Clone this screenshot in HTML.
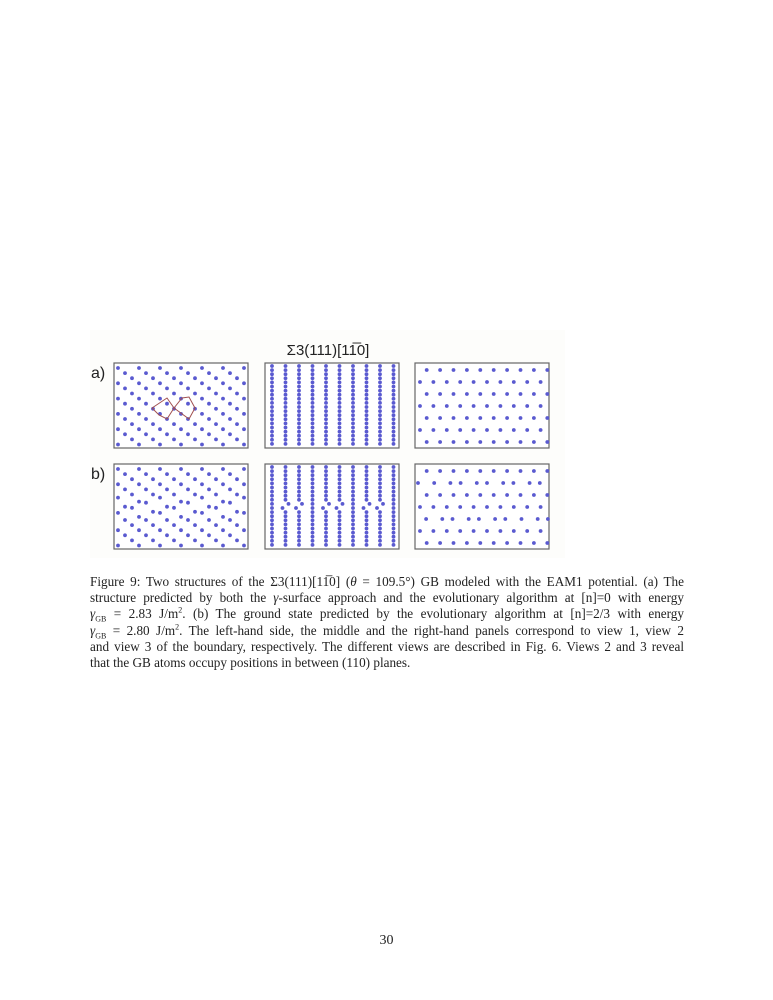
<!DOCTYPE html>
<html><head><meta charset="utf-8"><style>
body{margin:0;width:773px;height:1000px;background:#fff;position:relative;font-family:"Liberation Serif",serif;overflow:hidden}
#fig{position:absolute;left:90px;top:330px;width:475px;height:228px;background:#fdfdfb}
.cap{position:absolute;left:90px;top:574px;width:594px;font-size:13.2px;color:#222}
.cap div{height:16.2px;line-height:16px;white-space:nowrap;text-align:justify;text-align-last:justify}
.cap div.last{text-align-last:left}
sub,sup{font-size:8px;line-height:0}
.pg{position:absolute;left:0;width:773px;top:933px;text-align:center;font-size:14px;color:#222}
</style></head><body>
<div id="fig"></div>
<svg id="s" width="773" height="1000" style="position:absolute;left:0;top:0">
<text x="328" y="355" text-anchor="middle" font-family="Liberation Sans,sans-serif" font-size="15" fill="#222">Σ3(111)[11̅0]</text>
<text x="91" y="378" font-family="Liberation Sans,sans-serif" font-size="16" fill="#222">a)</text>
<text x="91" y="479" font-family="Liberation Sans,sans-serif" font-size="16" fill="#222">b)</text>
</svg>
<div class="cap">
<div>Figure 9: Two structures of the Σ3(111)[11̅0] (<i>θ</i> = 109.5°) GB modeled with the EAM1 potential. (a) The</div>
<div>structure predicted by both the <i>γ</i>-surface approach and the evolutionary algorithm at [n]=0 with energy</div>
<div><i>γ</i><sub>GB</sub> = 2.83 J/m<sup>2</sup>. (b) The ground state predicted by the evolutionary algorithm at [n]=2/3 with energy</div>
<div><i>γ</i><sub>GB</sub> = 2.80 J/m<sup>2</sup>. The left-hand side, the middle and the right-hand panels correspond to view 1, view 2</div>
<div>and view 3 of the boundary, respectively. The different views are described in Fig. 6. Views 2 and 3 reveal</div>
<div class="last">that the GB atoms occupy positions in between (110) planes.</div>
</div>
<div class="pg">30</div>
<script>
const panelX=[114,265,415];
const panelY=[363,464];
const PW=134,PH=85;
const s=document.getElementById('s');
const NS='http://www.w3.org/2000/svg';
function dot(x,y,px,py){if(x<px+1||x>px+PW-1||y<py+1||y>py+PH-1)return;
const c=document.createElementNS(NS,'circle');c.setAttribute('cx',x);c.setAttribute('cy',y);c.setAttribute('r',1.9);c.setAttribute('fill','#5a5ad0');


s.appendChild(c);}
for(let r=0;r<2;r++)for(let p=0;p<3;p++){
const px=panelX[p],py=panelY[r];
const b=document.createElementNS(NS,'rect');b.setAttribute('x',px);b.setAttribute('y',py);b.setAttribute('width',PW);b.setAttribute('height',PH);b.setAttribute('fill','#fff');b.setAttribute('stroke','#666');b.setAttribute('stroke-width','1.2');


s.appendChild(b);
if(p===0){for(let i=0;i<17;i++){const y=py+5+i*5.1;const mid=py+PH/2;const off=(i*7)%21;
for(let x=px+4+off;x<px+PW;x+=21){let yy=y;if(r===1&&Math.abs(y-mid)<10)yy+=((x-px)%14<7?-2:2);dot(x,yy,px,py);}}}
if(p===1){for(let c=0;c<10;c++){const x=px+7+c*13.5;for(let y=py+3;y<py+PH;y+=4.1){let xx=x;if(r===1&&Math.abs(y-py-42)<5&&c%3!==0)xx+=((y|0)%2?3:-3);dot(xx,y,px,py);}}}
if(p===2){for(let i=0;i<7;i++){const y=py+7+i*12;const off=i%2?0:6.7;for(let x=px+5+off;x<px+PW;x+=13.4){dot(x+(r===1&&i%3===1?(x%3-1)*2:0),y,px,py);}}}
}
function poly(pts,name){const pl=document.createElementNS(NS,'polyline');pl.setAttribute('points',pts);pl.setAttribute('fill','none');pl.setAttribute('stroke','#a05050');pl.setAttribute('stroke-width','1');


s.appendChild(pl);}
poly('152,408 167,398 174,408 167,419 159,415 152,408','twin-outline-left');
poly('174,408 182,398 189,397 195,408 189,419 174,408','twin-outline-right');
</script>
</body></html>
